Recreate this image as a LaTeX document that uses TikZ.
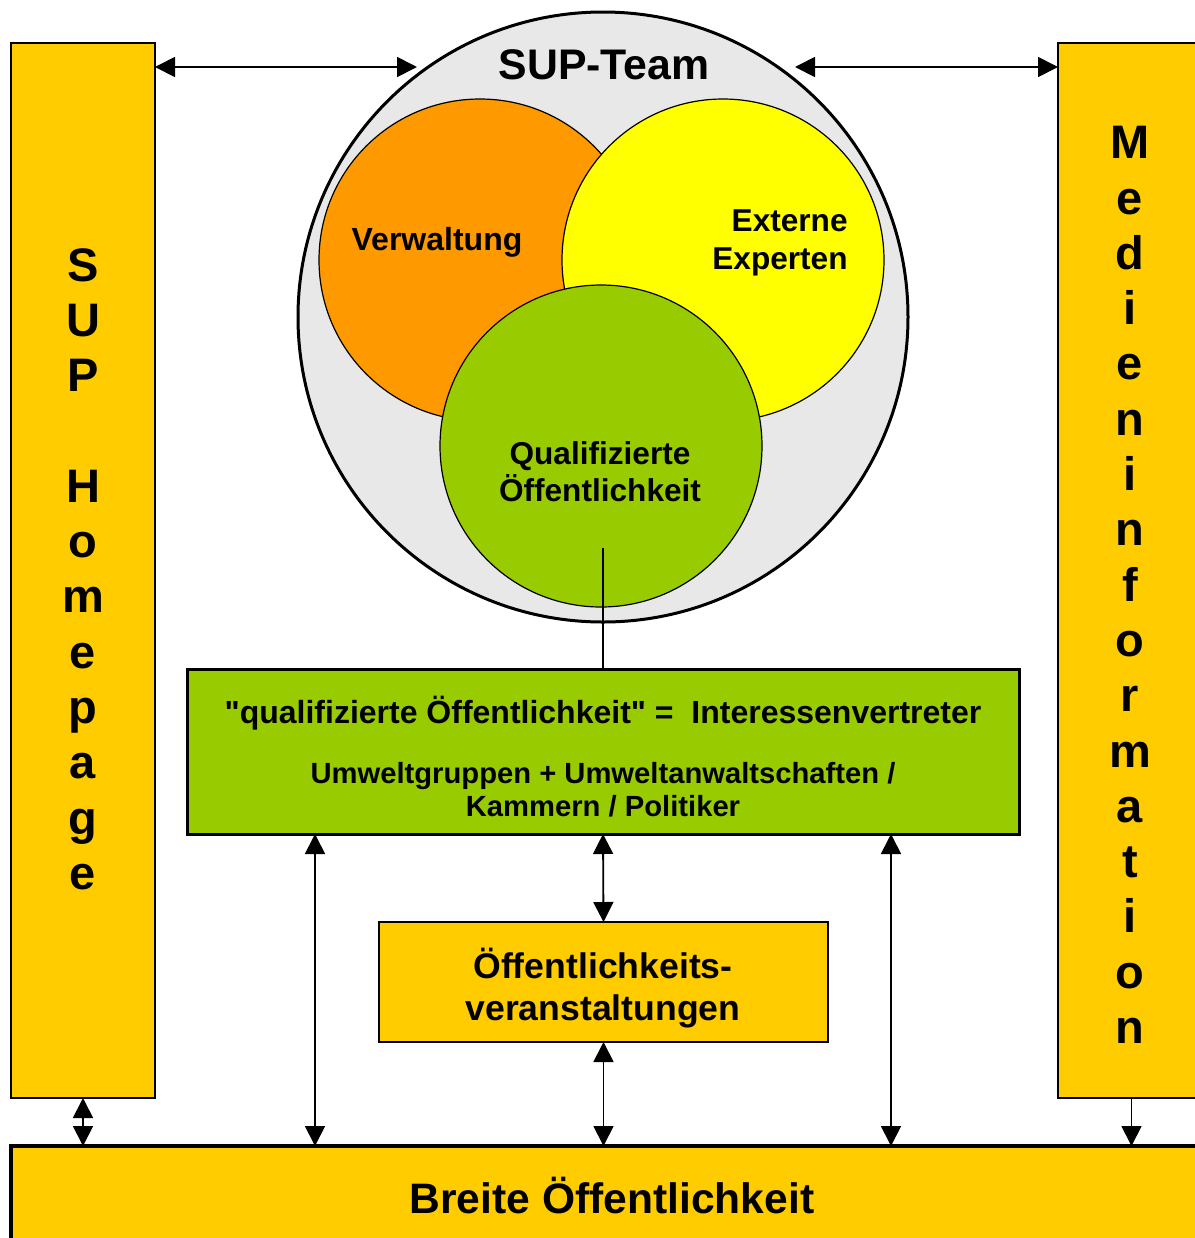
\documentclass[tikz,border=0pt]{standalone}
\usepackage{fontspec}
\setmainfont{Liberation Sans}[Ligatures=TeXOff]
\usepackage{xcolor}
\usetikzlibrary{arrows.meta}

\definecolor{supgelb}{HTML}{FFCC00}
\definecolor{suporange}{HTML}{FF9900}
\definecolor{supzitron}{HTML}{FFFF00}
\definecolor{supgruen}{HTML}{99CC00}
\definecolor{supgrau}{HTML}{E8E8E8}

\begin{document}
\begin{tikzpicture}[x=0.5pt, y=-0.5pt, font=\bfseries,
    kasten/.style={draw, fill=supgelb, line width=0.75pt, inner sep=0pt, outer sep=0pt, anchor=north west},
    kreis/.style={circle, draw, line width=0.6pt, minimum size=161pt, inner sep=0pt},
    pfeil/.style={{Triangle[length=10pt,width=10pt]}-{Triangle[length=10pt,width=10pt]}, line width=0.9pt},
    pfeilab/.style={-{Triangle[length=10pt,width=10pt]}, line width=0.9pt},
    senkrecht/.style={align=center, font=\bfseries\fontsize{23.5}{27.65}\selectfont}]
\useasboundingbox (0,0) rectangle (1195,1238);
% Seitenspalten
\node[kasten, minimum width=72pt, minimum height=527.5pt] (homepage) at (11,43) {};
\node[kasten, minimum width=73.5pt, minimum height=527.5pt] (medien) at (1058,43) {};
\node[senkrecht] at (83,569) {S\\U\\P\\[27.65pt]H\\o\\m\\e\\p\\a\\g\\e};
\node[senkrecht] at (1130,585) {M\\e\\d\\i\\e\\n\\i\\n\\f\\o\\r\\m\\a\\t\\i\\o\\n};
% SUP-Team mit drei Kreisen
\node[circle, draw, fill=supgrau, line width=1.5pt, minimum size=305pt, inner sep=0pt] (team) at (603,317) {};
\node[kreis, fill=suporange] (verwaltung) at (480,260) {};
\node[kreis, fill=supzitron] (experten) at (723,260) {};
\node[kreis, fill=supgruen] (qoeff) at (601,446) {};
\node[font=\bfseries\fontsize{21.4}{25}\selectfont] (teamlabel) at (604,65) {SUP-Team};
\node[anchor=base, font=\bfseries\fontsize{16}{19}\selectfont] (verwlabel) at (437,250) {Verwaltung};
\node[anchor=east, inner sep=0pt, align=right, font=\bfseries\fontsize{15.8}{18.7}\selectfont] (explabel) at (848,243) {Externe\\Experten};
\node[align=center, font=\bfseries\fontsize{15.8}{18.5}\selectfont] (qlabel) at (600,472) {Qualifizierte\\Öffentlichkeit};
% Kaesten unten
\node[kasten, fill=supgruen, line width=1.5pt, minimum width=416pt, minimum height=82.5pt] (interessen) at (187,669) {};
\node[anchor=base, font=\bfseries\fontsize{16}{19}\selectfont] (interlabel) at (603,723) {"qualifizierte Öffentlichkeit" =\ \ Interessenvertreter};
\node[align=center, font=\bfseries\fontsize{14.6}{16.6}\selectfont] (gruppen) at (603,790) {Umweltgruppen + Umweltanwaltschaften /\\Kammern / Politiker};
\node[kasten, minimum width=224.5pt, minimum height=60pt] (veranstaltung) at (379,922) {};
\node[align=center, font=\bfseries\fontsize{17.8}{20.8}\selectfont] (veranstlabel) at (603,988) {Öffentlichkeits-\\veranstaltungen};
\node[kasten, line width=2.2pt, minimum width=601pt, minimum height=55pt] (breite) at (11,1146) {};
\node[font=\bfseries\fontsize{21.3}{25}\selectfont] (breitelabel) at (612,1196) {Breite Öffentlichkeit};
% Verbindungen
\coordinate (teamlinks) at (417,67);
\coordinate (teamrechts) at (795,67);
\coordinate (qmitte) at (603,548);
\coordinate (links) at ([xshift=64pt]interessen.south west);
\coordinate (rechts) at ([xshift=352pt]interessen.south west);
\draw[pfeil] (homepage.east |- teamlinks) -- (teamlinks);
\draw[pfeil] (teamrechts) -- (teamrechts -| medien.west);
\draw[line width=0.75pt] (qmitte) -- (interessen.north);
\draw[pfeil] (interessen.south) -- (veranstaltung.north);
\draw[pfeil] (veranstaltung.south) -- (veranstaltung.south |- breite.north);
\draw[pfeil] (links) -- (links |- breite.north);
\draw[pfeil] (rechts) -- (rechts |- breite.north);
\draw[pfeil] (homepage.south) -- (homepage.south |- breite.north);
\draw[pfeilab] (medien.south) -- (medien.south |- breite.north);
\end{tikzpicture}
\end{document}
